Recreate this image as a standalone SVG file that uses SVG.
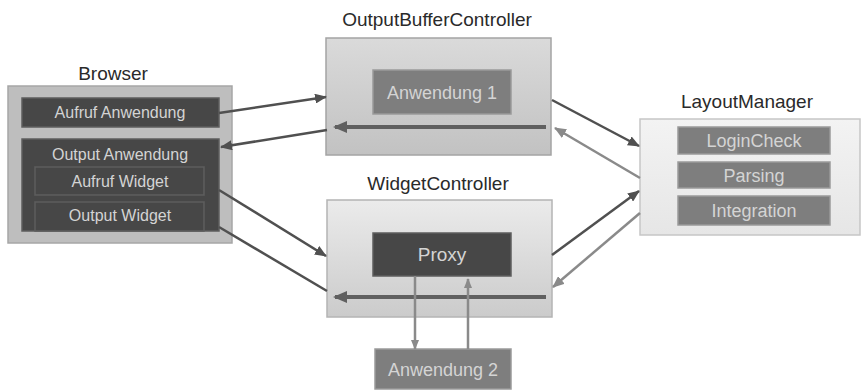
<svg xmlns="http://www.w3.org/2000/svg" width="861" height="390" viewBox="0 0 861 390">
<defs>
<style>
.title{font-family:"Liberation Sans",Arial,sans-serif;font-size:19px;fill:#2a2a2a;text-anchor:middle}
.lbl{font-family:"Liberation Sans",Arial,sans-serif;fill:#d4d4d4;text-anchor:middle}
.dark{fill:#474747;stroke:#5e5e5e;stroke-width:1.5}
.mid{fill:#7e7e7e;stroke:#9a9a9a;stroke-width:1.5}
.c-dark{stroke:#505050;stroke-width:2.5;fill:none}
.c-light{stroke:#8a8a8a;stroke-width:2.5;fill:none}
.c-thick{stroke:#606060;stroke-width:4;fill:none}
</style>
<linearGradient id="gOBC" x1="0" y1="0" x2="0" y2="1"><stop offset="0" stop-color="#dadada"/><stop offset="1" stop-color="#c2c2c2"/></linearGradient>
<linearGradient id="gWC" x1="0" y1="0" x2="0" y2="1"><stop offset="0" stop-color="#ebebeb"/><stop offset="1" stop-color="#cbcbcb"/></linearGradient>
<linearGradient id="gLM" x1="0" y1="0" x2="0" y2="1"><stop offset="0" stop-color="#f3f3f3"/><stop offset="1" stop-color="#e6e6e6"/></linearGradient>
<marker id="aD" markerUnits="userSpaceOnUse" markerWidth="12" markerHeight="10" refX="11" refY="5" orient="auto"><path d="M0,0 L12,5 L0,10 Z" fill="#505050"/></marker>
<marker id="aL" markerUnits="userSpaceOnUse" markerWidth="12" markerHeight="10" refX="11" refY="5" orient="auto"><path d="M0,0 L12,5 L0,10 Z" fill="#8a8a8a"/></marker>
<marker id="aT" markerUnits="userSpaceOnUse" markerWidth="14" markerHeight="12" refX="12" refY="6" orient="auto"><path d="M0,0 L14,6 L0,12 Z" fill="#606060"/></marker>
<marker id="aS" markerUnits="userSpaceOnUse" markerWidth="10" markerHeight="8" refX="9" refY="4" orient="auto"><path d="M0,0 L10,4 L0,8 Z" fill="#8a8a8a"/></marker>
</defs>
<rect width="861" height="390" fill="#ffffff"/>

<g id="browser">
<text class="title" x="113" y="80">Browser</text>
<rect x="8" y="86" width="224" height="157" fill="#bebebe" stroke="#a6a6a6" stroke-width="1.5"/>
<rect class="dark" x="22" y="98" width="197" height="29"/>
<text class="lbl" x="120" y="118" font-size="16">Aufruf Anwendung</text>
<rect class="dark" x="22" y="139" width="197" height="92"/>
<text class="lbl" x="120" y="160" font-size="16">Output Anwendung</text>
<rect class="dark" x="35" y="167" width="169" height="28"/>
<text class="lbl" x="120" y="187" font-size="16">Aufruf Widget</text>
<rect class="dark" x="35" y="202" width="169" height="29"/>
<text class="lbl" x="120" y="221" font-size="16">Output Widget</text>
</g>

<g id="outputbuffercontroller">
<text class="title" x="437" y="26">OutputBufferController</text>
<rect x="326" y="38" width="225" height="117" fill="url(#gOBC)" stroke="#a4a4a4" stroke-width="1.5"/>
<rect class="mid" x="373" y="70" width="138" height="44"/>
<text class="lbl" x="442" y="99" font-size="18">Anwendung 1</text>
</g>

<g id="widgetcontroller">
<text class="title" x="438" y="190">WidgetController</text>
<rect x="327" y="200" width="225" height="117" fill="url(#gWC)" stroke="#b4b4b4" stroke-width="1.5"/>
<rect class="dark" x="373" y="233" width="138" height="43"/>
<text class="lbl" x="442" y="261" font-size="19">Proxy</text>
</g>

<g id="anwendung2">
<rect class="mid" x="375" y="349" width="136" height="40"/>
<text class="lbl" x="443" y="376" font-size="18">Anwendung 2</text>
</g>

<g id="layoutmanager">
<text class="title" x="747" y="108">LayoutManager</text>
<rect x="640" y="119" width="220" height="116" fill="url(#gLM)" stroke="#c6c6c6" stroke-width="1.5"/>
<rect class="mid" x="678" y="127" width="152" height="27"/>
<text class="lbl" x="754" y="147" font-size="18">LoginCheck</text>
<rect class="mid" x="678" y="162" width="152" height="26"/>
<text class="lbl" x="754" y="182" font-size="18">Parsing</text>
<rect class="mid" x="678" y="196" width="152" height="29"/>
<text class="lbl" x="754" y="217" font-size="18">Integration</text>
</g>

<g id="connectors">
<line class="c-dark" x1="219" y1="113" x2="326" y2="97" marker-end="url(#aD)"/>
<line class="c-thick" x1="546" y1="127" x2="335" y2="127" marker-end="url(#aT)"/>
<line class="c-dark" x1="327" y1="130" x2="221" y2="147" marker-end="url(#aD)"/>
<line class="c-dark" x1="219" y1="190" x2="326" y2="256" marker-end="url(#aD)"/>
<line class="c-thick" x1="546" y1="297" x2="335" y2="297" marker-end="url(#aT)"/>
<line class="c-dark" x1="219" y1="227" x2="327" y2="291"/>
<line class="c-dark" x1="552" y1="100" x2="639" y2="146" marker-end="url(#aD)"/>
<line class="c-light" x1="640" y1="178" x2="555" y2="128" marker-end="url(#aL)"/>
<line class="c-dark" x1="552" y1="255" x2="639" y2="191" marker-end="url(#aD)"/>
<line class="c-light" x1="640" y1="213" x2="553" y2="287" marker-end="url(#aL)"/>
<line class="c-light" x1="415" y1="276" x2="415" y2="349" stroke-width="2" marker-end="url(#aS)"/>
<line class="c-light" x1="468" y1="349" x2="468" y2="279" stroke-width="2" marker-end="url(#aS)"/>
</g>
</svg>
